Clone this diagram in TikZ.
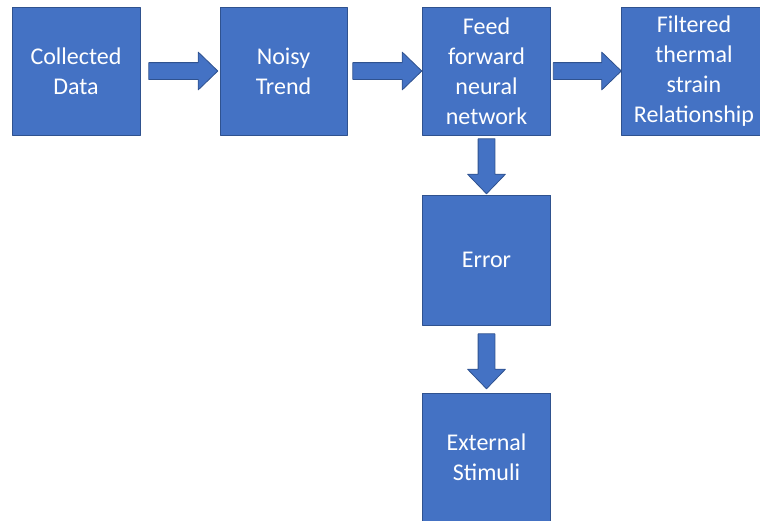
\documentclass[tikz,border=0pt]{standalone}
\usepackage{fontspec}
\setmainfont{Carlito}
\usetikzlibrary{shapes.arrows}
\definecolor{boxblue}{HTML}{4472C4}
\definecolor{boxline}{HTML}{2F528F}
\begin{document}
\begin{tikzpicture}[x=1pt, y=-1pt, font=\fontsize{24}{30}\selectfont, line join=round,
  blk/.style={draw=boxline, line width=0.8pt, fill=boxblue, text=white, align=center, inner sep=0pt, minimum width=128pt, minimum height=128pt},
  blkarrow/.style={single arrow, draw=boxline, line width=0.8pt, fill=boxblue, inner sep=0pt, single arrow head extend=10.5pt, single arrow tip angle=88, minimum height=#1, anchor=tail},
  blkarrow/.default=69pt]
\clip (0,0) rectangle (760,520);
\node[blk] (cd) at (76,71) {Collected\\Data};
\node[blk, minimum width=127pt] (nt) at (283.5,71) {Noisy\\Trend};
\node[blk] (ff) at (486.5,71) {Feed\\forward\\neural\\network};
\node[blk, minimum width=146pt] (fr) at (694,71) {Filtered\\thermal\\strain\\Relationship};
\node[blk, minimum height=130pt] (er) at (486.5,260) {Error};
\node[blk] (es) at (486.5,457) {External\\Stimuli};
\node[blkarrow] (a1) at ([xshift=8pt]cd.east) {\rule{0pt}{16pt}};
\node[blkarrow] (a2) at ([xshift=5pt]nt.east) {\rule{0pt}{16pt}};
\node[blkarrow=68pt] (a3) at ([xshift=2pt]ff.east) {\rule{0pt}{16pt}};
\node[blkarrow=55pt, shape border rotate=270] (a4) at ([yshift=-3pt]ff.south) {\rule{16pt}{0pt}};
\node[blkarrow=55pt, shape border rotate=270] (a5) at ([yshift=-8pt]er.south) {\rule{16pt}{0pt}};
\end{tikzpicture}
\end{document}
